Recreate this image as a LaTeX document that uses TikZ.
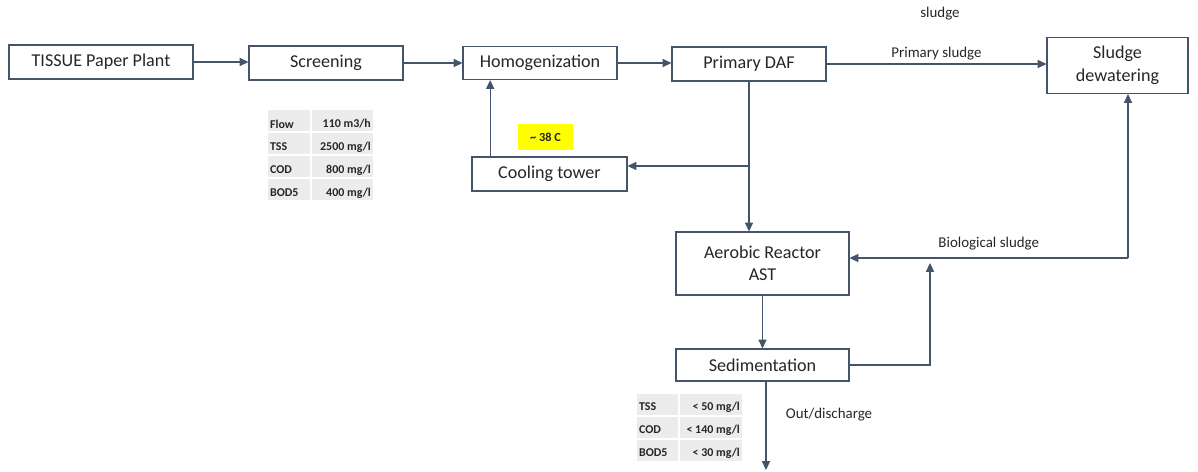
\documentclass[tikz,border=0pt]{standalone}
\usepackage{fontspec}
\setmainfont{Carlito}
\usetikzlibrary{arrows.meta, calc, positioning}
\definecolor{slateline}{RGB}{68,84,106}
\definecolor{inktext}{RGB}{38,38,38}
\definecolor{cellgray}{RGB}{236,236,236}
\definecolor{hotyellow}{RGB}{255,255,0}

\begin{document}
\begin{tikzpicture}[x=0.02cm, y=-0.02cm,
  unit/.style={draw=slateline, line width=0.65pt, text=inktext,
    align=center, inner sep=0pt, font=\fontsize{10.3}{12.8}\selectfont},
  flow/.style={-{Triangle[length=5pt,width=4.6pt]}, draw=slateline,
    line width=0.65pt},
  tag/.style={text=inktext, inner sep=1pt, font=\fontsize{8.5}{10}\selectfont},
  cell/.style={text=inktext, inner sep=1pt,
    font=\fontsize{6.8}{8}\selectfont\bfseries}]
\useasboundingbox (0,0) rectangle (1198,471);
% MAIN LINE
\node[unit, minimum width=3.68cm, minimum height=0.68cm]
  (plant) at (101,62) {TISSUE Paper Plant};
\node[unit, minimum width=3.08cm, minimum height=0.68cm]
  (screen) at (326,63) {Screening};
\node[unit, minimum width=3.08cm, minimum height=0.66cm]
  (homog) at (540,63) {Homogenization};
\node[unit, minimum width=3.08cm, minimum height=0.68cm]
  (daf) at (749,64) {Primary DAF};
\node[unit, minimum width=2.82cm, minimum height=1.12cm]
  (dewat) at (1117.5,65.5) {Sludge\\dewatering};
\node[unit, minimum width=3.1cm, minimum height=0.68cm]
  (cool) at (549.5,174) {Cooling tower};
\node[unit, minimum width=3.46cm, minimum height=1.26cm]
  (aero) at (762.5,263.5) {Aerobic Reactor\\AST};
\node[unit, minimum width=3.46cm, minimum height=0.64cm]
  (sedim) at (762.5,365) {Sedimentation};
\node[fill=hotyellow, minimum width=1.1cm, minimum height=0.52cm,
  text=inktext, font=\fontsize{7}{8}\selectfont\bfseries]
  (temp) at (545.5,137) {\textasciitilde{} 38 C};
\node[tag] (stray) at (940,14) {sludge};
% inlet / outlet values
\foreach \k/\v [count=\r from 0] in
  {Flow/{110 m3/h}, TSS/{2500 mg/l}, COD/{800 mg/l}, BOD5/{400 mg/l}}{
  \fill[cellgray] (268,110+23*\r) rectangle (310,131+23*\r);
  \fill[cellgray] (312,110+23*\r) rectangle (373,131+23*\r);
  \node[cell, anchor=west] (inl\r) at (268,124+23*\r) {\k};
  \node[cell, anchor=east] (inv\r) at (373,124+23*\r) {\v};
}
\foreach \k/\v [count=\r from 0] in
  {TSS/{< 50 mg/l}, COD/{< 140 mg/l}, BOD5/{< 30 mg/l}}{
  \fill[cellgray] (637,394+23*\r) rectangle (678,415+23*\r);
  \fill[cellgray] (680,394+23*\r) rectangle (742,415+23*\r);
  \node[cell, anchor=west] (outl\r) at (637,407+23*\r) {\k};
  \node[cell, anchor=east] (outv\r) at (742,407+23*\r) {\v};
}
% connectors
\draw[flow] (plant.east) -- (plant.east -| screen.west);
\draw[flow] (screen.east) -- (screen.east -| homog.west);
\draw[flow] (homog.east) -- (homog.east -| daf.west);
\draw[flow] (daf.east) -- (daf.east -| dewat.west)
  node[tag, midway, above=1pt] {Primary sludge};
\draw[flow] (daf.south) -- (daf.south |- aero.north);
\coordinate (tap) at (749,166);
\draw[flow] (tap) -- (tap -| cool.east);
\coordinate (rise) at ($(cool.north west)!0.12!(cool.north east)$);
\draw[flow] (rise) -- (rise |- homog.south);
\coordinate (bio) at (1128,258);
\draw[flow] (bio) -- (bio |- dewat.south);
\draw[flow] (bio) -- (bio -| aero.east)
  node[tag, midway, above=3pt] {Biological sludge};
\coordinate (ret) at (930,263);
\draw[flow] (sedim.east) -| (ret);
\draw[flow] (aero) -- (sedim);
\coordinate (outlet) at (766,470);
\draw[flow] (outlet |- sedim.south) -- (outlet);
\node[tag] (outtag) at (829,415) {Out/discharge};
\end{tikzpicture}
\end{document}
